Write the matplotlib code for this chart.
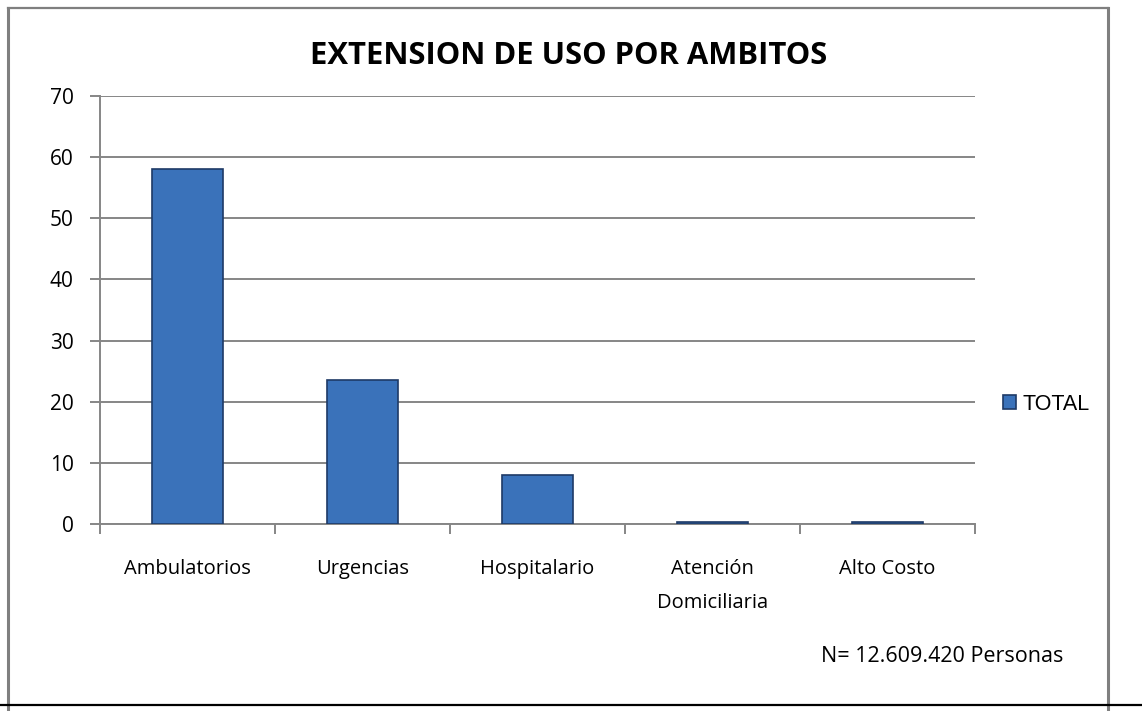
import matplotlib.pyplot as plt
from matplotlib.lines import Line2D
import numpy as np

categories = ["Ambulatorios", "Urgencias", "Hospitalario", "Atención\nDomiciliaria", "Alto Costo"]
totals = [58.1, 23.6, 8.0, 0.4, 0.4]
y_ticks = [0, 10, 20, 30, 40, 50, 60, 70]
series_name = "TOTAL"
title = "EXTENSION DE USO POR AMBITOS"
note = "N= 12.609.420 Personas"

W, H = 1142, 711
fig = plt.figure(figsize=(W / 100, H / 100), dpi=100)
fig.patch.set_facecolor('white')

# plot area in pixel coords
left, right, top, bottom = 100, 975, 96, 524
ax = fig.add_axes([left / W, 1 - bottom / H, (right - left) / W, (bottom - top) / H])

x = np.arange(len(categories))
bars = ax.bar(x, totals, width=0.41, color='#3A72BA', edgecolor='#1E3A66',
              linewidth=1.2, zorder=3, label=series_name)

ax.set_xlim(-0.5, len(categories) - 0.5)
ax.set_ylim(0, 70)
ax.set_yticks(y_ticks)
ax.set_yticklabels([str(v) for v in y_ticks], fontsize=15, family='Open Sans')
ax.yaxis.grid(True, color='#868686', linewidth=1.4, zorder=0)
ax.tick_params(axis='y', length=7, width=1.4, color='#868686', pad=12)

# category ticks at boundaries, labels at centres
ax.set_xticks(np.arange(len(categories) + 1) - 0.5)
ax.set_xticklabels([])
ax.set_xticks(x, minor=True)
ax.set_xticklabels(categories, minor=True, fontsize=14.5, family='Open Sans',
                   linespacing=1.95, va='top')
ax.tick_params(axis='x', which='major', length=7, width=1.4, color='#868686')
ax.tick_params(axis='x', which='minor', length=0, pad=25)

for s in ['top', 'right']:
    ax.spines[s].set_visible(False)
for s in ['left', 'bottom']:
    ax.spines[s].set_color('#868686')
    ax.spines[s].set_linewidth(1.4)

fig.text(569 / W, 1 - 56 / H, title, ha='center', va='center',
         fontsize=22.3, fontweight='bold', family='Open Sans')

fig.legend(handles=[bars], labels=[series_name], loc='center left',
           bbox_to_anchor=(984 / W, 1 - 404 / H), frameon=False,
           handlelength=0.6, handleheight=0.6, handletextpad=0.3,
           prop={'family': 'Liberation Sans', 'size': 15.5})

fig.text(1063 / W, 1 - 657 / H, note, ha='right', va='center',
         fontsize=15.5, family='Open Sans')

# outer frame like the pasted chart box
gray = '#7F7F7F'
fig.add_artist(Line2D([8 / W, 8 / W], [0, 1 - 8 / H], color=gray, lw=2.2))
fig.add_artist(Line2D([8 / W, 1108 / W], [1 - 8 / H, 1 - 8 / H], color=gray, lw=1.6))
fig.add_artist(Line2D([1108 / W, 1108 / W], [0, 1 - 8 / H], color=gray, lw=2.2))
fig.add_artist(Line2D([0, 1], [1 - 705 / H, 1 - 705 / H], color='black', lw=1.6))

fig.savefig('out.png', dpi=100, facecolor='white')
plt.close(fig)
